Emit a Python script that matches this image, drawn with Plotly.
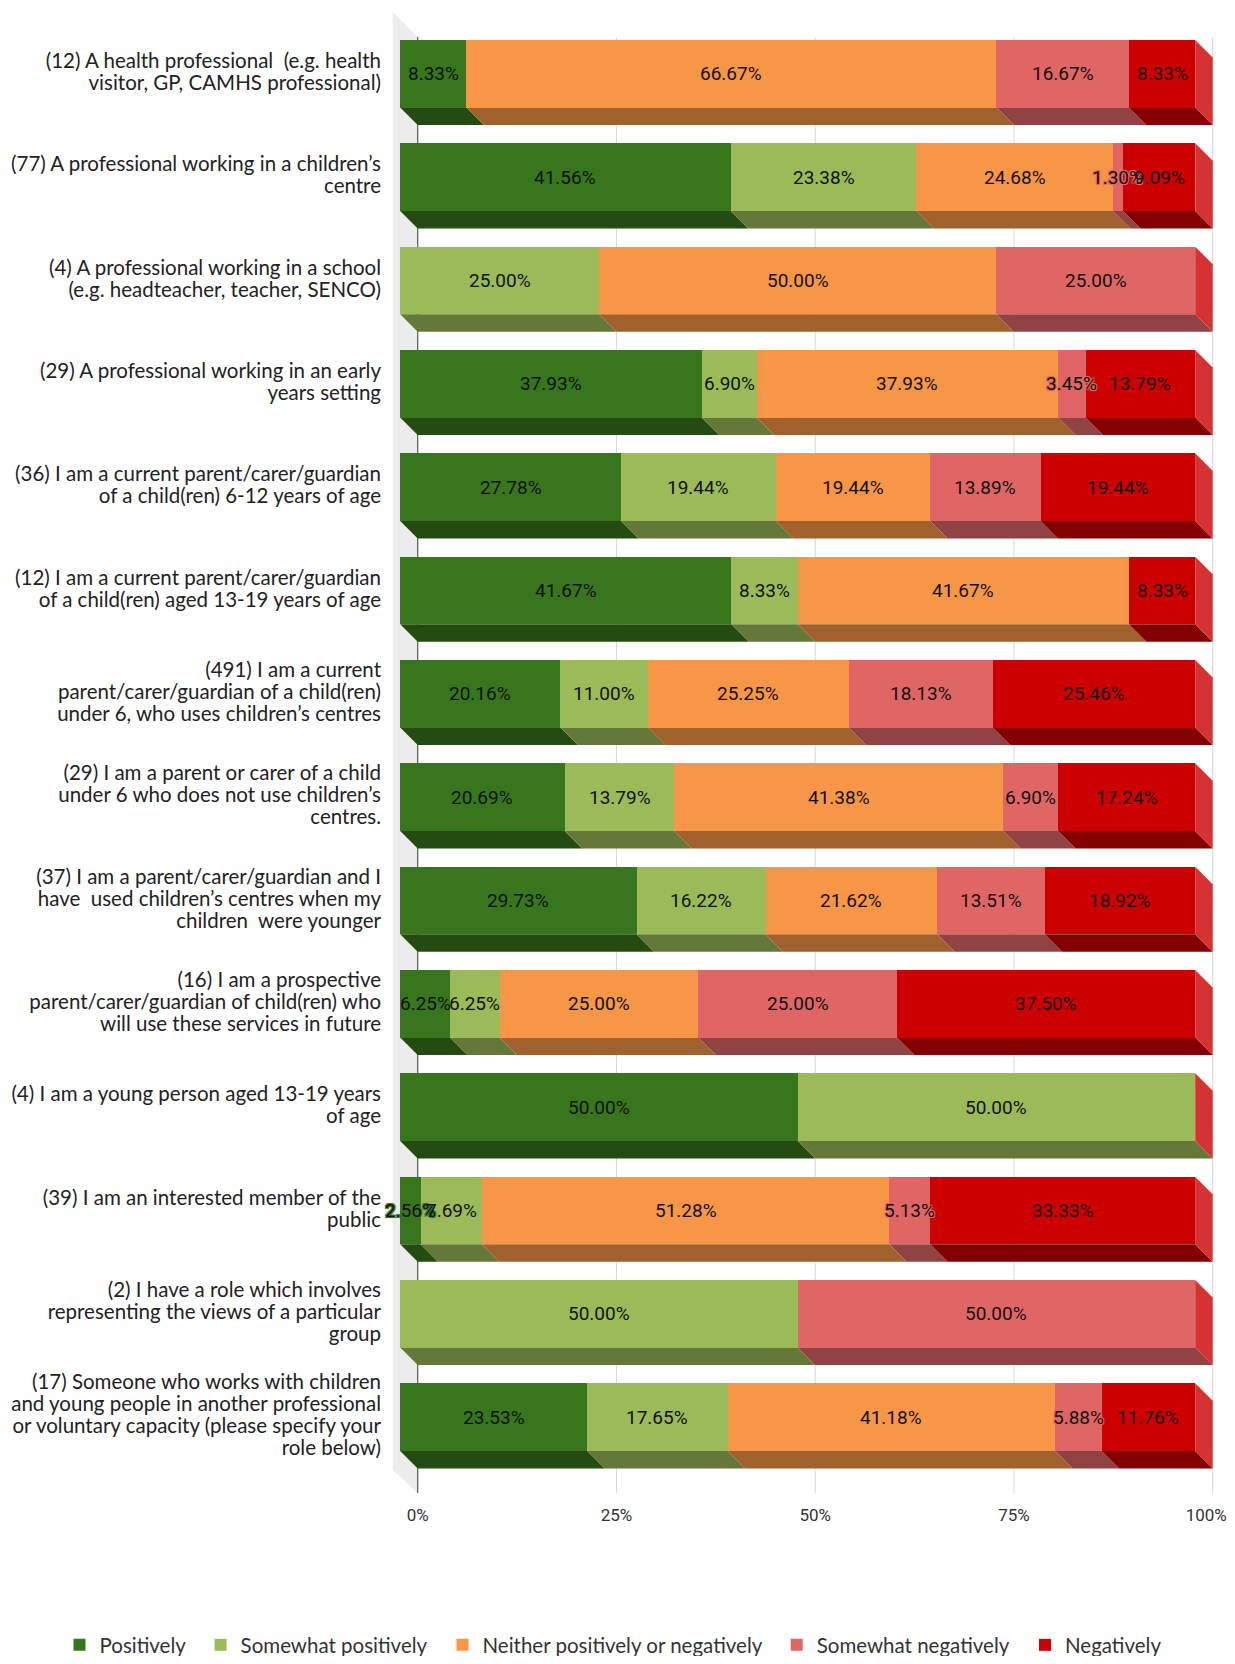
import plotly.graph_objects as go

# ---------------- data ----------------
categories = [
    "(12) A health professional  (e.g. health<br>visitor, GP, CAMHS professional)",
    "(77) A professional working in a children’s<br>centre",
    "(4) A professional working in a school<br>(e.g. headteacher, teacher, SENCO)",
    "(29) A professional working in an early<br>years setting",
    "(36) I am a current parent/carer/guardian<br>of a child(ren) 6-12 years of age",
    "(12) I am a current parent/carer/guardian<br>of a child(ren) aged 13-19 years of age",
    "(491) I am a current<br>parent/carer/guardian of a child(ren)<br>under 6, who uses children’s centres",
    "(29) I am a parent or carer of a child<br>under 6 who does not use children’s<br>centres.",
    "(37) I am a parent/carer/guardian and I<br>have  used children’s centres when my<br>children  were younger",
    "(16) I am a prospective<br>parent/carer/guardian of child(ren) who<br>will use these services in future",
    "(4) I am a young person aged 13-19 years<br>of age",
    "(39) I am an interested member of the<br>public",
    "(2) I have a role which involves<br>representing the views of a particular<br>group",
    "(17) Someone who works with children<br>and young people in another professional<br>or voluntary capacity (please specify your<br>role below)",
]

series_names = ["Positively", "Somewhat positively", "Neither positively or negatively",
                "Somewhat negatively", "Negatively"]

positively = [8.33, 41.56, 0, 37.93, 27.78, 41.67, 20.16, 20.69, 29.73, 6.25, 50.00, 2.56, 0, 23.53]
somewhat_positively = [0, 23.38, 25.00, 6.90, 19.44, 8.33, 11.00, 13.79, 16.22, 6.25, 50.00, 7.69, 50.00, 17.65]
neither = [66.67, 24.68, 50.00, 37.93, 19.44, 41.67, 25.25, 41.38, 21.62, 25.00, 0, 51.28, 0, 41.18]
somewhat_negatively = [16.67, 1.30, 25.00, 3.45, 13.89, 0, 18.13, 6.90, 13.51, 25.00, 0, 5.13, 50.00, 5.88]
negatively = [8.33, 9.09, 0, 13.79, 19.44, 8.33, 25.46, 17.24, 18.92, 37.50, 0, 33.33, 0, 11.76]

tick_values = [0, 25, 50, 75, 100]
tick_labels = ["0%", "25%", "50%", "75%", "100%"]

# ---------------- style ----------------
front_colors = ["#38761d", "#9bbb59", "#f79646", "#e06666", "#cc0000"]


def shade(hex_color, f):
    h = hex_color.lstrip("#")
    r, g, b = (int(h[i:i + 2], 16) for i in (0, 2, 4))
    if f <= 1:
        r, g, b = (int(c * f) for c in (r, g, b))
    else:
        t = f - 1
        r, g, b = (int(c + (255 - c) * t) for c in (r, g, b))
    return "#%02x%02x%02x" % (r, g, b)


bottom_colors = [shade(c, 0.65) for c in front_colors]
side_color = shade(front_colors[-1], 1.2)

# the page has an 8px body margin, so the figure is laid out 8px in from the page corner
W, H = 1227, 1648
M_L, M_R, M_T = 384, 20, 3
PLOT_BOTTOM_PX = 1485
M_B = H - PLOT_BOTTOM_PX
X0_PX = 409.7            # pixel of 0% on the back plane
PX_PER_UNIT = 7.95
ROW0_PX = 65.8           # pixel of the first row's front-face centre
ROW_PX = 103.33
DEPTH_PX = 17.5
DX = DEPTH_PX / PX_PER_UNIT
DY = DEPTH_PX / ROW_PX
HALF = 0.327             # half of the front face height, in row units
LINE_PX = 22.0           # spacing between lines of a category label
LABEL_SHIFT_PX = -2.0
LEGEND_Y_PX = 1637
EDGE_NUDGE_PX = 6.5      # keep the last x tick label inside the visible page

x_range = [(M_L - X0_PX) / PX_PER_UNIT, (W - M_R - X0_PX) / PX_PER_UNIT]
y_top = (M_T - ROW0_PX) / ROW_PX
y_bot = (PLOT_BOTTOM_PX - ROW0_PX) / ROW_PX
back_top = (29 - ROW0_PX) / ROW_PX
wall_front_x = (384.7 - X0_PX) / PX_PER_UNIT
wall_front_top = (3.7 - ROW0_PX) / ROW_PX
wall_front_bot = (1462 - ROW0_PX) / ROW_PX

series = [positively, somewhat_positively, neither, somewhat_negatively, negatively]
rows = list(range(len(categories)))

# category labels: one tick per text line, so the line spacing can be tight
label_vals, label_text = [], []
for i, cat in enumerate(categories):
    lines = cat.split("<br>")
    n = len(lines)
    for j, line in enumerate(lines):
        label_vals.append(i + ((j - (n - 1) / 2) * LINE_PX + LABEL_SHIFT_PX) / ROW_PX)
        label_text.append(line)

x_tick_pos = [t if t < max(tick_values) else t - EDGE_NUDGE_PX / PX_PER_UNIT
              for t in tick_values]

fig = go.Figure()
shapes = []

# side wall
shapes.append(dict(type="path", xref="x", yref="y", layer="below",
                   path=f"M{wall_front_x},{wall_front_top} L0,{back_top} L0,{y_bot} "
                        f"L{wall_front_x},{wall_front_bot} Z",
                   fillcolor="#ececec", line=dict(width=0)))
# gridlines on the back plane
for t in tick_values:
    shapes.append(dict(type="line", xref="x", yref="y", layer="below",
                       x0=t, x1=t, y0=back_top, y1=y_bot,
                       line=dict(color="#555555" if t == 0 else "#d6d6d6",
                                 width=1.2 if t == 0 else 1)))

legend_marker_px = [79.5, 220.6, 462.5, 796.7, 1045.0]   # page px of legend swatch centres
legend_ids = ["legend", "legend2", "legend3", "legend4", "legend5"]

annotations = []
cum = [0.0] * len(rows)
for k, (name, vals) in enumerate(zip(series_names, series)):
    base = [c - DX for c in cum]
    fig.add_trace(go.Bar(
        name=name, orientation="h", y=rows, x=vals, base=base,
        width=HALF * 2, marker=dict(color=front_colors[k], line=dict(width=0)),
        hoverinfo="skip", legend=legend_ids[k]))
    for i in rows:
        v = vals[i]
        if v <= 0:
            continue
        x0 = cum[i] - DX
        x1 = cum[i] + v - DX
        yb = i + HALF
        shapes.append(dict(type="path", xref="x", yref="y", layer="below",
                           path=f"M{x0},{yb} L{x1},{yb} L{x1 + DX},{yb + DY} L{x0 + DX},{yb + DY} Z",
                           fillcolor=bottom_colors[k], line=dict(width=0)))
        font = dict(family="Roboto", size=19, color="#111111")
        if v < 6:
            c = front_colors[k]
            font["shadow"] = (f"1px 1px 0 {c}, -1px -1px 0 {c}, 1px -1px 0 {c}, "
                              f"-1px 1px 0 {c}, 0 0 3px {c}")
        annotations.append(dict(x=cum[i] + v / 2 - DX, y=i, xref="x", yref="y",
                                text=f"{v:.2f}%", showarrow=False, font=font))
    cum = [c + v for c, v in zip(cum, vals)]

# right side faces
for i in rows:
    x1 = cum[i] - DX
    shapes.append(dict(type="path", xref="x", yref="y", layer="below",
                       path=f"M{x1},{i - HALF} L{x1 + DX},{i - HALF + DY} "
                            f"L{x1 + DX},{i + HALF + DY} L{x1},{i + HALF} Z",
                       fillcolor=side_color, line=dict(width=0)))

legend_common = dict(orientation="h", xref="container", yref="container",
                     xanchor="left", yanchor="middle", y=(H - LEGEND_Y_PX) / H,
                     bgcolor="rgba(0,0,0,0)", borderwidth=0,
                     font=dict(family="Lato", size=20.5, color="#333333"),
                     itemwidth=30)
legend_layout = {}
for k, lid in enumerate(legend_ids):
    legend_layout[lid] = dict(legend_common, x=(legend_marker_px[k] - 8 - 20) / W)

fig.update_layout(
    width=W, height=H, autosize=False,
    margin=dict(l=M_L, r=M_R, t=M_T, b=M_B, pad=0),
    paper_bgcolor="white", plot_bgcolor="rgba(0,0,0,0)",
    barmode="overlay", bargap=0,
    shapes=shapes, annotations=annotations,
    font=dict(family="Lato", color="#222222"),
    xaxis=dict(range=x_range, tickmode="array", tickvals=x_tick_pos, ticktext=tick_labels,
               showgrid=False, zeroline=False, showline=False, ticks="",
               ticklabelstandoff=10, automargin=False, ticklabeloverflow="allow",
               tickfont=dict(family="Roboto", size=17, color="#333333")),
    yaxis=dict(range=[y_bot, y_top], tickmode="array", tickvals=label_vals,
               ticktext=label_text,
               showgrid=False, zeroline=False, showline=False, ticks="",
               ticklabelstandoff=10, automargin=False,
               tickfont=dict(family="Lato", size=20.5, color="#222222")),
    showlegend=True,
    **legend_layout,
)

fig.write_html("out.html")
